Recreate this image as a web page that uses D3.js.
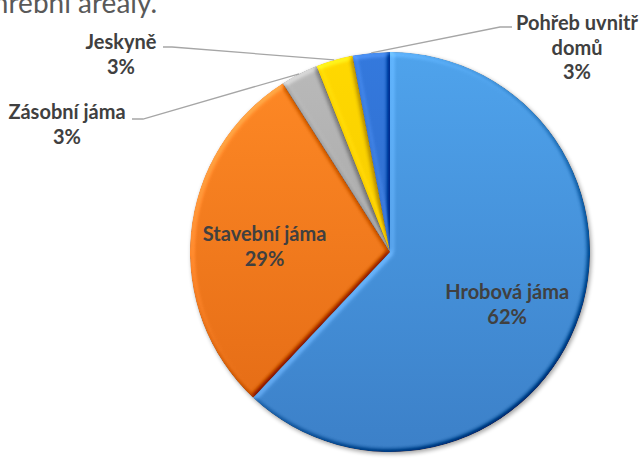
<!DOCTYPE html>
<html>
<head>
<meta charset="utf-8">
<script src="https://cdn.jsdelivr.net/npm/d3@7"></script>
<style>
  html, body { margin: 0; padding: 0; background: #ffffff; }
  svg { display: block; }
</style>
</head>
<body>
<svg id="chart" width="641" height="460"></svg>
<script>
// ---- data ----
const categories = ["Hrobová jáma", "Stavební jáma", "Zásobní jáma", "Jeskyně", "Pohřeb uvnitř domů"];
const values = [62, 29, 3, 3, 3];
const titleText = "Pohřební areály.";

// ---- styles ----
const topColors = ["#4fa3ec", "#ff8a26", "#bababa", "#ffd900", "#3479dd"];
const bottomColors = ["#3c80c8", "#e26914", "#9a9a9a", "#efbf00", "#2a62c0"];
const labelInside = [true, true, false, false, false];
// outside label layout
const outsideLayout = {
  "Zásobní jáma": { tx: 67, ty: 119, x0: 132, x1: 143, y: 119 },
  "Jeskyně": { tx: 121, ty: 49, x0: 163, x1: 172, y: 47 },
  "Pohřeb uvnitř domů": { tx: 577, ty: 30, x0: 512, x1: 500, y: 27 }
};

const cx = 390, cy = 252, R = 200;
const svg = d3.select("#chart");
const defs = svg.append("defs");

// bevel filter
const f = defs.append("filter").attr("id", "bevel")
  .attr("x", "-5%").attr("y", "-5%").attr("width", "110%").attr("height", "110%")
  .attr("color-interpolation-filters", "sRGB");
f.append("feGaussianBlur").attr("in", "SourceAlpha").attr("stdDeviation", 2.5).attr("result", "b");
const dl = f.append("feDiffuseLighting").attr("in", "b").attr("surfaceScale", 3)
  .attr("diffuseConstant", 1).attr("lighting-color", "white").attr("result", "light");
dl.append("feDistantLight").attr("azimuth", 225).attr("elevation", 50);
f.append("feComposite").attr("in", "SourceGraphic").attr("in2", "light")
  .attr("operator", "arithmetic").attr("k1", 0).attr("k2", 1).attr("k3", 0.55).attr("k4", -0.42)
  .attr("result", "lit");
f.append("feComposite").attr("in", "lit").attr("in2", "SourceAlpha").attr("operator", "in");

// shadow filter
const sf = defs.append("filter").attr("id", "shadow")
  .attr("x", "-10%").attr("y", "-10%").attr("width", "120%").attr("height", "120%");
sf.append("feGaussianBlur").attr("stdDeviation", 2);

// gradients (in the pie's local coordinates)
categories.forEach((c, i) => {
  const g = defs.append("linearGradient").attr("id", "grad" + i)
    .attr("gradientUnits", "userSpaceOnUse")
    .attr("x1", 0).attr("y1", -R).attr("x2", 0).attr("y2", R);
  g.append("stop").attr("offset", "0%").attr("stop-color", topColors[i]);
  g.append("stop").attr("offset", "100%").attr("stop-color", bottomColors[i]);
});

// title (cut off at top, as in the original)
svg.append("text")
  .attr("x", 157).attr("y", 13)
  .attr("text-anchor", "end")
  .attr("font-family", "Lato, 'Open Sans', sans-serif")
  .attr("font-size", 28)
  .attr("fill", "#595959")
  .text(titleText);

const pie = d3.pie().sort(null).value(d => d)(values);
const arc = d3.arc().innerRadius(0).outerRadius(R);
const total = d3.sum(values);
const fmt = d3.format(".0%");

const g = svg.append("g").attr("transform", `translate(${cx},${cy})`);

// drop shadow
g.append("circle").attr("cx", 1.5).attr("cy", 2).attr("r", R)
  .attr("fill", "#000").attr("opacity", 0.35).attr("filter", "url(#shadow)");

g.selectAll("path.slice").data(pie).join("path")
  .attr("class", "slice")
  .attr("d", arc)
  .attr("fill", (d, i) => `url(#grad${i})`)
  .attr("filter", "url(#bevel)");

const font = "Lato, 'Open Sans', sans-serif";
const fs = 20;
const labelColor = "#404040";

function splitLabel(s) {
  if (s.length > 15) {
    const k = s.lastIndexOf(" ");
    return [s.slice(0, k), s.slice(k + 1)];
  }
  return [s];
}

const labelArc = d3.arc().innerRadius(R * 0.63).outerRadius(R * 0.63);

pie.forEach((d, i) => {
  const name = categories[i];
  const lines = splitLabel(name).concat([fmt(values[i] / total)]);
  if (labelInside[i]) {
    const [lx, ly] = labelArc.centroid(d);
    const t = g.append("text")
      .attr("text-anchor", "middle")
      .attr("font-family", font).attr("font-weight", 700)
      .attr("font-size", fs).attr("fill", labelColor);
    lines.forEach((ln, j) => {
      t.append("tspan").attr("x", lx).attr("y", ly + 1 + j * 24.5).text(ln);
    });
  } else {
    const L = outsideLayout[name];
    const mid = (d.startAngle + d.endAngle) / 2;
    const px = cx + R * Math.sin(mid), py = cy - R * Math.cos(mid);
    svg.append("polyline")
      .attr("points", `${px},${py} ${L.x1},${L.y} ${L.x0},${L.y}`)
      .attr("fill", "none").attr("stroke", "#a6a6a6").attr("stroke-width", 1.3);
    const t = svg.append("text")
      .attr("text-anchor", "middle")
      .attr("font-family", font).attr("font-weight", 700)
      .attr("font-size", fs).attr("fill", labelColor);
    lines.forEach((ln, j) => {
      t.append("tspan").attr("x", L.tx).attr("y", L.ty + j * 24.5).text(ln);
    });
  }
});
</script>
</body>
</html>
